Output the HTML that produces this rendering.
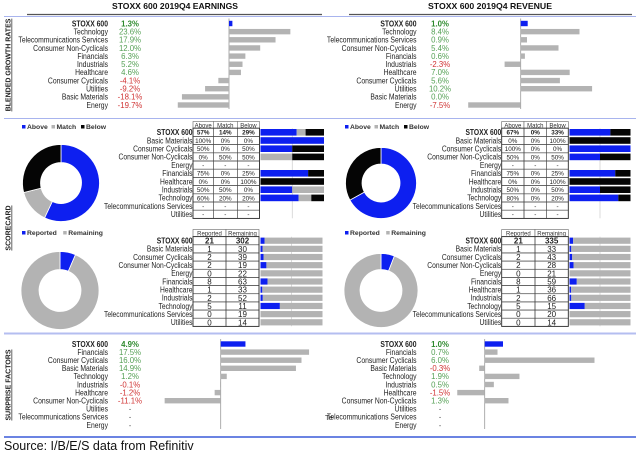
<!DOCTYPE html>
<html><head><meta charset="utf-8"><style>
html,body{margin:0;padding:0;background:#fff;}
svg{display:block;font-family:"Liberation Sans",Arial,sans-serif;}
</style></head><body>
<svg id="c" width="640" height="455" viewBox="0 0 640 455">
<rect width="640" height="455" fill="#fff"/>
<g>
<text x="175" y="9" text-anchor="middle" font-size="8.5" font-weight="bold" fill="#111" textLength="126" lengthAdjust="spacingAndGlyphs">STOXX 600 2019Q4 EARNINGS</text>
<line x1="27" y1="14.5" x2="320" y2="14.5" stroke="#555" stroke-width="1.3"/>
</g>
<g>
<text x="490" y="9" text-anchor="middle" font-size="8.5" font-weight="bold" fill="#111" textLength="124" lengthAdjust="spacingAndGlyphs">STOXX 600 2019Q4 REVENUE</text>
<line x1="349" y1="14.5" x2="632" y2="14.5" stroke="#555" stroke-width="1.3"/>
<line x1="320" y1="14.5" x2="322" y2="14.5" stroke="#555" stroke-width="1.3"/>
</g>
<line x1="4" y1="16.5" x2="636" y2="16.5" stroke="#a8b4ee" stroke-width="1"/>
<line x1="4" y1="118.5" x2="636" y2="118.5" stroke="#a8b4ee" stroke-width="1"/>
<line x1="4" y1="333.5" x2="636" y2="333.5" stroke="#b4bef0" stroke-width="2"/>
<line x1="4" y1="437" x2="636" y2="437" stroke="#3a5ad8" stroke-width="1.5"/>
<text x="4" y="450" font-size="12.5" fill="#111">Source: I/B/E/S data from Refinitiv</text>
<text transform="translate(10.5,65) rotate(-90)" text-anchor="middle" font-size="7" font-weight="bold" fill="#222" text-decoration="underline">BLENDED GROWTH RATES</text>
<text transform="translate(10.5,228) rotate(-90)" text-anchor="middle" font-size="7" font-weight="bold" fill="#222" text-decoration="underline">SCORECARD</text>
<text transform="translate(10.5,385) rotate(-90)" text-anchor="middle" font-size="7" font-weight="bold" fill="#222" text-decoration="underline">SURPRISE FACTORS</text>
<text x="325" y="420" font-size="7.5" fill="#333">Te</text>
<g id="content"></g>
</svg>
<script>
// ---- Data ----
const growthEarnLabels = ['STOXX 600','Technology','Telecommunications Services','Consumer Non-Cyclicals','Financials','Industrials','Healthcare','Consumer Cyclicals','Utilities','Basic Materials','Energy'];
const growthEarnValues = [1.3,23.6,17.9,12.0,6.3,5.2,4.6,-4.1,-9.2,-18.1,-19.7];
const growthRevLabels = ['STOXX 600','Technology','Telecommunications Services','Consumer Non-Cyclicals','Financials','Industrials','Healthcare','Consumer Cyclicals','Utilities','Basic Materials','Energy'];
const growthRevValues = [1.0,8.4,0.9,5.4,0.6,-2.3,7.0,5.6,10.2,0.0,-7.5];

const sectorLabels = ['STOXX 600','Basic Materials','Consumer Cyclicals','Consumer Non-Cyclicals','Energy','Financials','Healthcare','Industrials','Technology','Telecommunications Services','Utilities'];
const earnAbove = [57,100,50,0,null,75,0,50,60,null,null];
const earnMatch = [14,0,0,50,null,0,0,50,20,null,null];
const earnBelow = [29,0,50,50,null,25,100,0,20,null,null];
const revAbove = [67,0,100,50,null,75,0,50,80,null,null];
const revMatch = [0,0,0,0,null,0,0,0,0,null,null];
const revBelow = [33,100,0,50,null,25,100,50,20,null,null];

const earnReported = [21,1,2,2,0,8,1,2,5,0,0];
const earnRemaining = [302,30,39,19,22,63,33,52,11,19,14];
const revReported = [21,1,2,2,0,8,1,2,5,0,0];
const revRemaining = [335,33,43,28,21,59,36,66,15,20,14];

const surpEarnLabels = ['STOXX 600','Financials','Consumer Cyclicals','Basic Materials','Technology','Industrials','Healthcare','Consumer Non-Cyclicals','Utilities','Telecommunications Services','Energy'];
const surpEarnValues = [4.9,17.5,16.0,14.9,1.2,-0.1,-1.2,-11.1,null,null,null];
const surpRevLabels = ['STOXX 600','Financials','Consumer Cyclicals','Basic Materials','Technology','Industrials','Healthcare','Consumer Non-Cyclicals','Utilities','Telecommunications Services','Energy'];
const surpRevValues = [1.0,0.7,6.0,-0.3,1.9,0.5,-1.5,1.3,null,null,null];

const BLUE = '#0d1ff0', GREY = '#b3b3b3', BLACK = '#050505';
const NS = 'http://www.w3.org/2000/svg';
const root = document.getElementById('content');
function mk(tag, attrs, parent, txt) {
  const e = document.createElementNS(NS, tag);
  for (const k in attrs) e.setAttribute(k, attrs[k]);
  if (txt !== undefined) e.textContent = txt;
  (parent || root).appendChild(e);
  return e;
}
function squeeze(t, f) {
  try {
    const L = t.getComputedTextLength();
    if (L > 0) {
      t.setAttribute('textLength', (L * f).toFixed(2));
      t.setAttribute('lengthAdjust', 'spacingAndGlyphs');
    }
  } catch (e) {}
}
function fmt(v){ return v.toFixed(1) + '%'; }

function barPanel(name, labels, values, cfg) {
  const g = mk('g', {});
  
  
  const xs = v => cfg.zero + v * cfg.scale;
  const ys = i => cfg.y0 + i * cfg.pitch;
  const ax = mk('line', {x1: cfg.zero, x2: cfg.zero, y1: ys(0) - 5, y2: ys(labels.length - 1) + 4, stroke: '#999', 'stroke-width': 0.8}, g);
  
  
  labels.forEach((lab, i) => {
    const y = ys(i);
    const t = mk('text', {x: cfg.labelX, y: y + 2.8, 'text-anchor': 'end', 'font-size': 8, 'font-weight': i === 0 ? 'bold' : 'normal', fill: '#222'}, g, lab);
    
    
    squeeze(t, 0.85);
    const v = values[i];
    const vt = mk('text', {x: cfg.valX, y: y + 2.8, 'text-anchor': 'middle', 'font-size': 7.8, 'font-weight': i === 0 ? 'bold' : 'normal',
      fill: v === null ? '#666' : (v < 0 ? '#d03434' : (i === 0 ? '#2e8a2e' : '#55a055'))}, g, v === null ? '-' : fmt(v));
    
    
    if (v !== null) {
      const x1 = Math.min(xs(0), xs(v)), w = Math.abs(xs(v) - xs(0));
      const r = mk('rect', {x: x1, y: y - 2.7, width: Math.max(w, 0), height: 5.4, fill: i === 0 ? BLUE : GREY}, g);
      
      
    }
  });
}

barPanel('earnings-growth-chart', growthEarnLabels, growthEarnValues, {labelX: 108, valX: 130, zero: 229, scale: 2.6, y0: 23.5, pitch: 8.15});
barPanel('revenue-growth-chart', growthRevLabels, growthRevValues, {labelX: 416.5, valX: 440, zero: 520.7, scale: 7.0, y0: 23.5, pitch: 8.15});
barPanel('earnings-surprise-chart', surpEarnLabels, surpEarnValues, {labelX: 108, valX: 130, zero: 220.7, scale: 5.05, y0: 344, pitch: 8.1});
barPanel('revenue-surprise-chart', surpRevLabels, surpRevValues, {labelX: 416.5, valX: 440, zero: 484.7, scale: 18.3, y0: 344, pitch: 8.1});

function legend(name, x, y, items) {
  const g = mk('g', {});
  
  
  let cx = x;
  items.forEach(it => {
    const s = mk('rect', {x: cx, y: y - 3, width: 3.5, height: 3.5, fill: it[1]}, g);
    
    
    const t = mk('text', {x: cx + 5, y: y + 0.8, 'font-size': 6.8, 'font-weight': 'bold', fill: '#333'}, g, it[0]);
    
    
    cx += 5 + it[0].length * 3.9 + 5;
  });
}

function donut(name, cx, cy, R, r, vals, colors) {
  const g = mk('g', {});
  
  
  const tot = vals.reduce((a, b) => a + b, 0);
  let a0 = 0;
  vals.forEach((v, i) => {
    if (v <= 0) return;
    const a1 = a0 + v / tot * Math.PI * 2;
    const p = (ang, rad) => [cx + rad * Math.sin(ang), cy - rad * Math.cos(ang)];
    const large = (a1 - a0) > Math.PI ? 1 : 0;
    const [x0, y0] = p(a0, R), [x1, y1] = p(a1, R), [x2, y2] = p(a1, r), [x3, y3] = p(a0, r);
    let d;
    if (v / tot > 0.9999) {
      d = `M${cx - R},${cy}A${R},${R} 0 1 1 ${cx + R},${cy}A${R},${R} 0 1 1 ${cx - R},${cy}M${cx - r},${cy}A${r},${r} 0 1 0 ${cx + r},${cy}A${r},${r} 0 1 0 ${cx - r},${cy}Z`;
    } else {
      d = `M${x0},${y0}A${R},${R} 0 ${large} 1 ${x1},${y1}L${x2},${y2}A${r},${r} 0 ${large} 0 ${x3},${y3}Z`;
    }
    const s = mk('path', {d: d, fill: colors[i], stroke: '#fff', 'stroke-width': 0.8, 'fill-rule': 'evenodd'}, g);
    
    
    a0 = a1;
  });
}

function table(name, cfg, headers, cols, fmtFn) {
  const g = mk('g', {});
  
  
  const ys = i => cfg.y0 + i * cfg.pitch;
  headers.forEach((h, j) => {
    const c = mk('rect', {x: cfg.xs[j], y: cfg.hy, width: cfg.xs[j + 1] - cfg.xs[j], height: cfg.y0 - cfg.pitch / 2 - cfg.hy, fill: '#fff', stroke: '#666', 'stroke-width': 0.6}, g);
    
    
    const t = mk('text', {x: (cfg.xs[j] + cfg.xs[j + 1]) / 2, y: cfg.hy + 6, 'text-anchor': 'middle', 'font-size': 6, fill: '#333'}, g, h);
    
    
  });
  sectorLabels.forEach((lab, i) => {
    const y = ys(i);
    const t = mk('text', {x: cfg.xs[0] - 0.5, y: y + 2.8, 'text-anchor': 'end', 'font-size': 8, 'font-weight': i === 0 ? 'bold' : 'normal', fill: '#222'}, g, lab);
    
    
    squeeze(t, 0.84);
    cols.forEach((col, j) => {
      const c = mk('rect', {x: cfg.xs[j], y: y - cfg.pitch / 2, width: cfg.xs[j + 1] - cfg.xs[j], height: cfg.pitch, fill: 'none', stroke: '#444', 'stroke-width': 0.6}, g);
      
      
      const v = col[i];
      const vt = mk('text', {x: (cfg.xs[j] + cfg.xs[j + 1]) / 2, y: y + (cfg.big ? 3 : 2.4), 'text-anchor': 'middle', 'font-size': cfg.big ? 8 : 6.3, 'font-weight': i === 0 ? 'bold' : 'normal', fill: '#222'}, g, v === null ? '-' : fmtFn(v));
      
      
    });
  });
  const ob = mk('rect', {x: cfg.xs[0], y: ys(0) - cfg.pitch / 2, width: cfg.xs[cfg.xs.length - 1] - cfg.xs[0], height: cfg.pitch * sectorLabels.length, fill: 'none', stroke: '#333', 'stroke-width': 0.9}, g);
  
  
}

function stackBars(name, cfg, series, colors) {
  const g = mk('g', {});
  
  
  const ys = i => cfg.y0 + i * cfg.pitch;
  const gl = mk('line', {x1: cfg.x + cfg.w / 2, x2: cfg.x + cfg.w / 2, y1: ys(0) - 4, y2: ys(sectorLabels.length - 1) + 4, stroke: '#ccc', 'stroke-width': 0.7}, g);
  
  
  sectorLabels.forEach((lab, i) => {
    const vals = series.map(s => s[i]);
    if (vals[0] === null) return;
    const tot = vals.reduce((a, b) => a + b, 0);
    if (tot <= 0) return;
    let x = cfg.x;
    vals.forEach((v, k) => {
      const w = v / tot * cfg.w;
      if (w <= 0) return;
      const r = mk('rect', {x: x, y: ys(i) - cfg.h / 2, width: w, height: cfg.h, fill: colors[k]}, g);
      
      
      x += w;
    });
  });
}

legend('earnings-scorecard-legend', 22, 128, [['Above', BLUE], ['Match', GREY], ['Below', BLACK]]);
legend('revenue-scorecard-legend', 345, 128, [['Above', BLUE], ['Match', GREY], ['Below', BLACK]]);
donut('earnings-scorecard-donut', 61, 183, 38.5, 20.5, [earnAbove[0], earnMatch[0], earnBelow[0]], [BLUE, GREY, BLACK]);
donut('revenue-scorecard-donut', 381, 183, 35.5, 19, [revAbove[0], revMatch[0], revBelow[0]], [BLUE, GREY, BLACK]);
const pct = v => v + '%';
table('earnings-scorecard-table', {xs: [193, 213.3, 237.3, 259.5], hy: 121.5, y0: 132.3, pitch: 8.2}, ['Above', 'Match', 'Below'], [earnAbove, earnMatch, earnBelow], pct);
table('revenue-scorecard-table', {xs: [501.7, 524, 546.7, 568.3], hy: 121.5, y0: 132.3, pitch: 8.2}, ['Above', 'Match', 'Below'], [revAbove, revMatch, revBelow], pct);
stackBars('earnings-scorecard-bars', {x: 260.5, w: 63.5, h: 6.6, y0: 132.3, pitch: 8.2}, [earnAbove, earnMatch, earnBelow], [BLUE, GREY, BLACK]);
stackBars('revenue-scorecard-bars', {x: 569.5, w: 61, h: 6.6, y0: 132.3, pitch: 8.2}, [revAbove, revMatch, revBelow], [BLUE, GREY, BLACK]);

legend('earnings-reported-legend', 22, 234, [['Reported', BLUE], ['Remaining', GREY]]);
legend('revenue-reported-legend', 345, 234, [['Reported', BLUE], ['Remaining', GREY]]);
donut('earnings-reported-donut', 60, 290.5, 39, 21, [earnReported[0], earnRemaining[0]], [BLUE, GREY]);
donut('revenue-reported-donut', 381, 290.5, 37, 21, [revReported[0], revRemaining[0]], [BLUE, GREY]);
const num = v => String(v);
table('earnings-reported-table', {xs: [193, 226, 259], hy: 229.5, y0: 240.7, pitch: 8.16, big: true}, ['Reported', 'Remaining'], [earnReported, earnRemaining], num);
table('revenue-reported-table', {xs: [501.7, 535, 568.3], hy: 229.5, y0: 240.7, pitch: 8.16, big: true}, ['Reported', 'Remaining'], [revReported, revRemaining], num);
stackBars('earnings-reported-bars', {x: 260.5, w: 62, h: 6.2, y0: 240.7, pitch: 8.16}, [earnReported, earnRemaining], [BLUE, GREY]);
stackBars('revenue-reported-bars', {x: 569.5, w: 61, h: 6.2, y0: 240.7, pitch: 8.16}, [revReported, revRemaining], [BLUE, GREY]);
</script>
</body></html>
